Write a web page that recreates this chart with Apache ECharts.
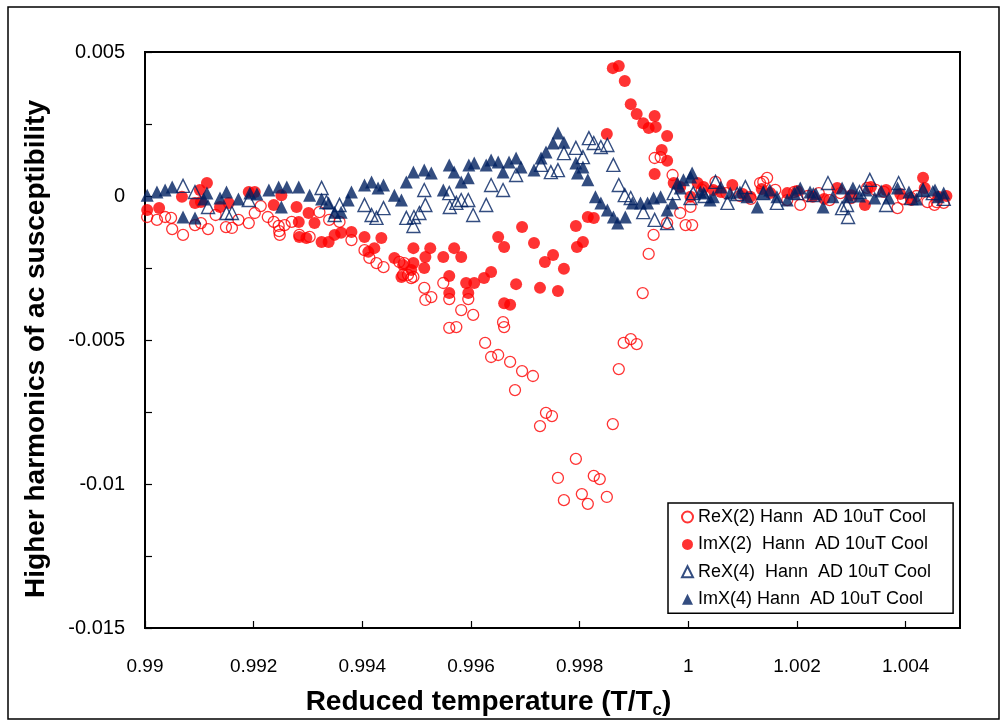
<!DOCTYPE html>
<html>
<head>
<meta charset="utf-8">
<script src="https://cdn.jsdelivr.net/npm/echarts@6/dist/echarts.min.js"></script>
<style>
  html, body { margin: 0; padding: 0; background: #fff; }
  #chart { width: 1006px; height: 725px; }
</style>
</head>
<body>
<div id="chart"></div>
<script>
// Second and fourth harmonics of the ac susceptibility vs reduced temperature T/Tc
const seriesNames = [
  'ReX(2) Hann  AD 10uT Cool',
  'ImX(2)  Hann  AD 10uT Cool',
  'ReX(4)  Hann  AD 10uT Cool',
  'ImX(4) Hann  AD 10uT Cool'
];

const reX2 = [
  [0.99004,-0.00073],[0.99022,-0.00083],[0.99037,-0.00073],[0.99048,-0.00076],[0.99050,-0.00115],
  [0.99070,-0.00135],[0.99092,-0.00101],[0.99103,-0.00094],[0.99116,-0.00115],[0.99130,-0.00066],
  [0.99149,-0.00108],[0.99160,-0.00111],[0.99172,-0.00083],[0.99191,-0.00094],[0.99202,-0.00059],
  [0.99213,-0.00035],[0.99226,-0.00073],[0.99237,-0.00090],[0.99246,-0.00104],[0.99247,-0.00122],
  [0.99248,-0.00135],[0.99257,-0.00101],[0.99270,-0.00090],[0.99284,-0.00135],[0.99303,-0.00142],
  [0.99321,-0.00056],[0.99339,-0.00083],[0.99358,-0.00090],[0.99380,-0.00153],[0.99404,-0.00188],
  [0.99413,-0.00215],[0.99426,-0.00233],[0.99439,-0.00247],[0.99468,-0.00229],[0.99475,-0.00274],
  [0.99477,-0.00233],[0.99484,-0.00274],[0.99490,-0.00285],[0.99494,-0.00281],[0.99514,-0.00319],
  [0.99516,-0.00361],[0.99527,-0.00351],[0.99549,-0.00302],[0.99560,-0.00358],[0.99560,-0.00458],
  [0.99573,-0.00455],[0.99582,-0.00396],[0.99595,-0.00358],[0.99604,-0.00413],[0.99626,-0.00510],
  [0.99637,-0.00559],[0.99650,-0.00552],[0.99659,-0.00438],[0.99661,-0.00455],[0.99672,-0.00576],
  [0.99681,-0.00674],[0.99694,-0.00608],[0.99714,-0.00625],[0.99727,-0.00799],[0.99738,-0.00753],
  [0.99749,-0.00764],[0.99760,-0.00979],[0.99771,-0.01056],[0.99793,-0.00913],[0.99804,-0.01035],
  [0.99815,-0.01069],[0.99826,-0.00972],[0.99837,-0.00983],[0.99850,-0.01045],[0.99861,-0.00792],
  [0.99872,-0.00601],[0.99881,-0.00510],[0.99894,-0.00497],[0.99905,-0.00514],[0.99916,-0.00337],
  [0.99927,-0.00201],[0.99936,-0.00135],[0.99938,0.00132],[0.99949,0.00135],[0.99961,-0.00094],
  [0.99971,0.00073],[0.99985,-0.00059],[0.99995,-0.00101],[1.00004,-0.00038],[1.00007,-0.00101],
  [1.00025,0.00021],[1.00050,0.00049],[1.00070,0.00010],[1.00095,0.00000],[1.00115,-0.00010],
  [1.00132,0.00045],[1.00138,0.00049],[1.00145,0.00063],[1.00160,0.00021],[1.00182,-0.00014],
  [1.00195,0.00014],[1.00206,-0.00031],[1.00220,0.00000],[1.00240,0.00010],[1.00260,-0.00014],
  [1.00280,0.00010],[1.00300,-0.00007],[1.00329,0.00028],[1.00345,0.00021],[1.00360,0.00014],
  [1.00385,-0.00042],[1.00395,-0.00010],[1.00410,-0.00007],[1.00420,0.00000],[1.00440,-0.00021],
  [1.00453,-0.00031],[1.00457,-0.00021],[1.00470,-0.00024]
];

const imX2 = [
  [0.99004,-0.00049],[0.99026,-0.00042],[0.99068,-0.00003],[0.99092,-0.00024],[0.99101,0.00021],
  [0.99103,-0.00021],[0.99114,0.00045],[0.99138,-0.00038],[0.99154,-0.00024],[0.99191,0.00014],
  [0.99202,0.00014],[0.99237,-0.00031],[0.99251,0.00003],[0.99279,-0.00038],[0.99283,-0.00090],
  [0.99284,-0.00142],[0.99297,-0.00146],[0.99301,-0.00059],[0.99312,-0.00094],[0.99325,-0.00160],
  [0.99338,-0.00160],[0.99349,-0.00135],[0.99361,-0.00128],[0.99380,-0.00125],[0.99404,-0.00142],
  [0.99411,-0.00194],[0.99422,-0.00181],[0.99435,-0.00146],[0.99459,-0.00215],[0.99472,-0.00281],
  [0.99475,-0.00240],[0.99490,-0.00257],[0.99494,-0.00181],[0.99494,-0.00233],[0.99514,-0.00250],
  [0.99516,-0.00212],[0.99525,-0.00181],[0.99549,-0.00212],[0.99560,-0.00278],[0.99560,-0.00337],
  [0.99569,-0.00181],[0.99582,-0.00212],[0.99591,-0.00302],[0.99595,-0.00337],[0.99606,-0.00302],
  [0.99624,-0.00285],[0.99637,-0.00264],[0.99650,-0.00142],[0.99661,-0.00177],[0.99661,-0.00372],
  [0.99672,-0.00378],[0.99683,-0.00306],[0.99694,-0.00108],[0.99716,-0.00163],[0.99727,-0.00319],
  [0.99736,-0.00229],[0.99751,-0.00205],[0.99760,-0.00330],[0.99771,-0.00253],[0.99793,-0.00104],
  [0.99795,-0.00177],[0.99806,-0.00160],[0.99815,-0.00073],[0.99826,-0.00076],[0.99850,0.00215],
  [0.99861,0.00444],[0.99872,0.00451],[0.99883,0.00399],[0.99894,0.00319],[0.99905,0.00285],
  [0.99917,0.00253],[0.99927,0.00236],[0.99938,0.00278],[0.99940,0.00240],[0.99961,0.00208],
  [0.99951,0.00160],[0.99961,0.00122],[0.99938,0.00076],[0.99973,0.00045],[0.99985,0.00031],
  [1.00004,-0.00003],[1.00017,0.00045],[1.00028,0.00031],[1.00046,0.00021],[1.00060,0.00014],
  [1.00081,0.00038],[1.00100,0.00007],[1.00114,-0.00003],[1.00135,0.00024],[1.00151,0.00010],
  [1.00182,0.00010],[1.00200,0.00017],[1.00229,-0.00003],[1.00250,-0.00010],[1.00274,0.00028],
  [1.00300,0.00003],[1.00325,-0.00031],[1.00336,0.00031],[1.00364,0.00021],[1.00390,0.00007],
  [1.00410,-0.00014],[1.00432,0.00063],[1.00435,0.00028],[1.00460,-0.00003],[1.00475,0.00000]
];

const reX4 = [
  [0.99070,0.00035],[0.99092,0.00014],[0.99116,-0.00038],[0.99150,-0.00059],[0.99160,-0.00059],
  [0.99191,-0.00014],[0.99325,0.00028],[0.99334,-0.00021],[0.99349,-0.00066],[0.99358,-0.00031],
  [0.99404,-0.00031],[0.99417,-0.00066],[0.99426,-0.00076],[0.99439,-0.00042],[0.99481,-0.00076],
  [0.99494,-0.00104],[0.99495,-0.00073],[0.99505,-0.00059],[0.99514,0.00021],[0.99516,-0.00031],
  [0.99560,0.00010],[0.99561,-0.00038],[0.99573,-0.00024],[0.99582,-0.00014],[0.99595,-0.00014],
  [0.99604,-0.00066],[0.99628,-0.00031],[0.99637,0.00038],[0.99659,0.00021],[0.99683,0.00073],
  [0.99729,0.00108],[0.99747,0.00083],[0.99760,0.00090],[0.99771,0.00149],[0.99793,0.00167],
  [0.99806,0.00135],[0.99817,0.00201],[0.99826,0.00184],[0.99839,0.00170],[0.99851,0.00177],
  [0.99862,0.00108],[0.99872,0.00038],[0.99883,0.00003],[0.99894,-0.00007],[0.99917,-0.00056],
  [0.99938,-0.00083],[0.99961,-0.00094],[0.99973,0.00010],[1.00004,-0.00007],[1.00009,0.00010],
  [1.00030,0.00000],[1.00050,0.00049],[1.00072,-0.00024],[1.00090,0.00007],[1.00105,0.00031],
  [1.00138,0.00010],[1.00163,-0.00024],[1.00200,0.00010],[1.00230,0.00003],[1.00257,0.00045],
  [1.00283,-0.00042],[1.00292,-0.00031],[1.00294,-0.00073],[1.00315,0.00014],[1.00334,0.00056],
  [1.00364,-0.00031],[1.00387,0.00045],[1.00410,-0.00007],[1.00432,0.00021],[1.00450,0.00010],
  [1.00470,-0.00010]
];

const imX4 = [
  [0.99004,0.00003],[0.99022,0.00014],[0.99037,0.00021],[0.99050,0.00031],[0.99070,-0.00073],
  [0.99092,-0.00076],[0.99108,-0.00010],[0.99114,0.00010],[0.99138,-0.00007],[0.99150,0.00014],
  [0.99172,-0.00010],[0.99193,0.00010],[0.99206,0.00007],[0.99228,0.00021],[0.99246,0.00031],
  [0.99251,-0.00038],[0.99261,0.00031],[0.99283,0.00031],[0.99303,0.00003],[0.99325,-0.00010],
  [0.99338,-0.00024],[0.99349,-0.00056],[0.99361,-0.00056],[0.99374,-0.00014],[0.99380,0.00014],
  [0.99404,0.00038],[0.99417,0.00049],[0.99429,0.00028],[0.99439,0.00038],[0.99459,0.00003],
  [0.99472,-0.00014],[0.99481,0.00049],[0.99494,0.00083],[0.99514,0.00090],[0.99527,0.00080],
  [0.99549,0.00021],[0.99560,0.00108],[0.99569,0.00083],[0.99582,0.00049],[0.99595,0.00063],
  [0.99596,0.00108],[0.99606,0.00115],[0.99628,0.00108],[0.99637,0.00125],[0.99650,0.00118],
  [0.99659,0.00083],[0.99670,0.00118],[0.99683,0.00132],[0.99692,0.00101],[0.99716,0.00090],
  [0.99729,0.00132],[0.99738,0.00153],[0.99751,0.00184],[0.99760,0.00219],[0.99771,0.00187],
  [0.99793,0.00115],[0.99796,0.00080],[0.99806,0.00101],[0.99815,0.00056],[0.99829,-0.00003],
  [0.99839,-0.00024],[0.99851,-0.00049],[0.99862,-0.00073],[0.99870,-0.00094],[0.99884,-0.00073],
  [0.99897,-0.00024],[0.99912,-0.00024],[0.99925,-0.00024],[0.99936,-0.00007],[0.99949,-0.00003],
  [0.99961,-0.00049],[0.99971,-0.00024],[0.99980,0.00045],[0.99985,0.00028],[0.99991,0.00056],
  [1.00004,0.00066],[1.00007,0.00080],[1.00022,0.00014],[1.00028,0.00010],[1.00040,-0.00014],
  [1.00046,-0.00003],[1.00060,0.00031],[1.00077,0.00010],[1.00095,0.00014],[1.00108,-0.00003],
  [1.00127,-0.00038],[1.00138,0.00010],[1.00150,0.00021],[1.00163,-0.00003],[1.00182,-0.00014],
  [1.00195,0.00010],[1.00206,0.00028],[1.00224,0.00014],[1.00235,0.00007],[1.00248,-0.00038],
  [1.00266,-0.00003],[1.00283,0.00028],[1.00294,-0.00003],[1.00303,0.00028],[1.00315,0.00000],
  [1.00327,0.00021],[1.00343,-0.00007],[1.00355,0.00017],[1.00369,-0.00007],[1.00385,0.00028],
  [1.00406,0.00014],[1.00420,-0.00010],[1.00432,0.00021],[1.00454,0.00021],[1.00460,-0.00003],
  [1.00470,0.00010]
];

// axis extents: [min, max, tick step]; y labels only every labelStep
const xRange = [0.99, 1.005, 0.002];
const yRange = [-0.015, 0.005, 0.0025];
const yLabelStep = 0.005;

const RED = '#ff0000';
const NAVY = '#002060';
const FONT = '"Liberation Sans", Arial, sans-serif';

const fmt = v => String(+(+v).toFixed(6));
const fmtY = v => {
  const k = v / yLabelStep;
  return Math.abs(k - Math.round(k)) < 1e-6 ? fmt(v) : '';
};

const chart = echarts.init(document.getElementById('chart'), null, { renderer: 'canvas' });

chart.setOption({
  backgroundColor: '#fff',
  animation: false,
  textStyle: { fontFamily: FONT },
  grid: {
    left: 145, right: 46, top: 52, bottom: 97,
    show: true, borderColor: '#000', borderWidth: 2, backgroundColor: 'transparent'
  },
  xAxis: {
    type: 'value',
    min: xRange[0], max: xRange[1], interval: xRange[2],
    axisLine: { show: true, onZero: false, lineStyle: { color: '#000', width: 2 } },
    axisTick: { show: true, inside: true, length: 7, lineStyle: { color: '#000', width: 1.2 } },
    splitLine: { show: false },
    axisLabel: {
      color: '#000', fontSize: 19, fontFamily: FONT, margin: 29,
      showMaxLabel: false, formatter: fmt
    },
    name: '{a|Reduced temperature (T/T}{b|c}{a|)}',
    nameLocation: 'middle',
    nameGap: 57,
    nameTextStyle: {
      padding: [0, 128, 0, 0],
      rich: {
        a: { fontSize: 28, fontWeight: 'bold', fontFamily: FONT, color: '#000', lineHeight: 34 },
        b: { fontSize: 17, fontWeight: 'bold', fontFamily: FONT, color: '#000', lineHeight: 16, verticalAlign: 'bottom' }
      }
    }
  },
  yAxis: {
    type: 'value',
    min: yRange[0], max: yRange[1], interval: yRange[2],
    axisLine: { show: true, onZero: false, lineStyle: { color: '#000', width: 2 } },
    axisTick: { show: true, inside: true, length: 7, lineStyle: { color: '#000', width: 1.2 } },
    splitLine: { show: false },
    axisLabel: {
      color: '#000', fontSize: 20, fontFamily: FONT, margin: 20,
      formatter: fmtY
    },
    name: 'Higher harmonics of ac susceptibility',
    nameLocation: 'middle',
    nameGap: 95,
    nameRotate: 90,
    nameTextStyle: {
      fontSize: 28, fontWeight: 'bold', fontFamily: FONT, color: '#000',
      padding: [0, 18, 0, 0]
    }
  },
  legend: {
    orient: 'vertical',
    left: 668, top: 503,
    padding: [4, 22, 4, 13],
    itemGap: 7.4,
    itemWidth: 11, itemHeight: 11,
    backgroundColor: '#fff',
    borderColor: '#000', borderWidth: 1.5,
    textStyle: { fontSize: 18, fontFamily: FONT, color: '#000', lineHeight: 20 },
    data: seriesNames
  },
  graphic: [{
    type: 'rect',
    shape: { x: 8, y: 7, width: 991, height: 712 },
    style: { fill: 'none', stroke: '#000', lineWidth: 1.5 },
    silent: true, z: 100
  }],
  series: [
    {
      name: seriesNames[0], type: 'scatter', data: reX2,
      symbol: 'circle', symbolSize: 11,
      itemStyle: { color: 'rgba(255,255,255,0)', borderColor: RED, borderWidth: 1.3 }
    },
    {
      name: seriesNames[1], type: 'scatter', data: imX2,
      symbol: 'circle', symbolSize: 12,
      itemStyle: { color: RED }
    },
    {
      name: seriesNames[2], type: 'scatter', data: reX4,
      symbol: 'triangle', symbolSize: 13,
      itemStyle: { color: 'rgba(255,255,255,0)', borderColor: NAVY, borderWidth: 1.4 }
    },
    {
      name: seriesNames[3], type: 'scatter', data: imX4,
      symbol: 'triangle', symbolSize: 13,
      itemStyle: { color: NAVY }
    }
  ]
});
</script>
</body>
</html>
